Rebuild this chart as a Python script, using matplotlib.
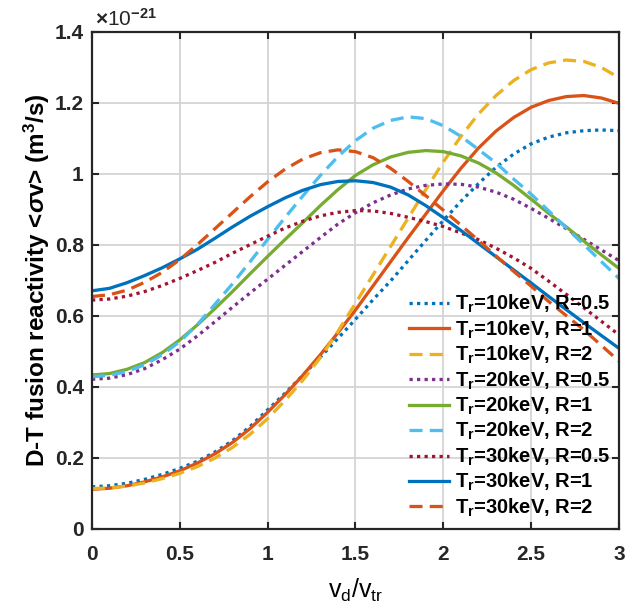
import matplotlib
matplotlib.use("Agg")
import matplotlib.pyplot as plt
from matplotlib import font_manager
from matplotlib.ticker import FormatStrFormatter

# x grid (v_d / v_tr) and reactivities, in units of 1e-21 m^3/s
vd = [round(0.1 * i, 1) for i in range(31)]

t10_r05 = [0.118, 0.121, 0.128, 0.139, 0.153, 0.170, 0.190, 0.216, 0.248, 0.288,
           0.335, 0.382, 0.432, 0.483, 0.536, 0.590, 0.645, 0.698, 0.755, 0.812,
           0.868, 0.922, 0.972, 1.018, 1.055, 1.084, 1.103, 1.115, 1.121, 1.123, 1.121]
t10_r1 = [0.111, 0.114, 0.121, 0.132, 0.146, 0.163, 0.185, 0.211, 0.243, 0.282,
          0.328, 0.378, 0.432, 0.490, 0.552, 0.616, 0.684, 0.752, 0.820, 0.886,
          0.952, 1.015, 1.072, 1.120, 1.158, 1.187, 1.206, 1.217, 1.220, 1.213, 1.198]
t10_r2 = [0.113, 0.115, 0.120, 0.129, 0.141, 0.156, 0.175, 0.199, 0.229, 0.266,
          0.310, 0.362, 0.418, 0.482, 0.556, 0.635, 0.715, 0.795, 0.875, 0.955,
          1.033, 1.105, 1.168, 1.220, 1.262, 1.293, 1.312, 1.320, 1.316, 1.299, 1.270]
t20_r05 = [0.421, 0.424, 0.434, 0.451, 0.476, 0.506, 0.543, 0.583, 0.624, 0.664,
           0.703, 0.742, 0.781, 0.820, 0.858, 0.890, 0.918, 0.940, 0.957, 0.967,
           0.971, 0.970, 0.962, 0.948, 0.928, 0.902, 0.874, 0.845, 0.815, 0.785, 0.755]
t20_r1 = [0.433, 0.437, 0.449, 0.468, 0.496, 0.532, 0.574, 0.620, 0.668, 0.718,
          0.767, 0.815, 0.862, 0.910, 0.955, 0.995, 1.025, 1.047, 1.060, 1.065,
          1.062, 1.050, 1.030, 1.002, 0.967, 0.928, 0.888, 0.850, 0.810, 0.771, 0.733]
t20_r2 = [0.428, 0.432, 0.443, 0.462, 0.490, 0.527, 0.575, 0.632, 0.690, 0.752,
          0.815, 0.877, 0.937, 0.995, 1.048, 1.093, 1.128, 1.150, 1.160, 1.155,
          1.135, 1.105, 1.068, 1.030, 0.985, 0.942, 0.895, 0.847, 0.800, 0.752, 0.705]
t30_r05 = [0.644, 0.647, 0.655, 0.668, 0.685, 0.705, 0.727, 0.750, 0.776, 0.800,
           0.824, 0.847, 0.866, 0.881, 0.891, 0.896, 0.895, 0.888, 0.877, 0.865,
           0.851, 0.833, 0.814, 0.790, 0.763, 0.733, 0.697, 0.660, 0.622, 0.584, 0.546]
t30_r1 = [0.670, 0.677, 0.693, 0.713, 0.735, 0.760, 0.787, 0.818, 0.850, 0.880,
          0.907, 0.932, 0.953, 0.969, 0.978, 0.980, 0.975, 0.962, 0.940, 0.910,
          0.876, 0.840, 0.803, 0.766, 0.729, 0.692, 0.654, 0.617, 0.580, 0.544, 0.508]
t30_r2 = [0.654, 0.659, 0.672, 0.694, 0.722, 0.758, 0.800, 0.845, 0.890, 0.935,
          0.977, 1.013, 1.041, 1.059, 1.067, 1.062, 1.045, 1.015, 0.978, 0.938,
          0.897, 0.855, 0.812, 0.768, 0.725, 0.683, 0.640, 0.600, 0.560, 0.516, 0.472]

labels = [
    r"$\mathregular{T_r}$=10keV, R=0.5", r"$\mathregular{T_r}$=10keV, R=1", r"$\mathregular{T_r}$=10keV, R=2",
    r"$\mathregular{T_r}$=20keV, R=0.5", r"$\mathregular{T_r}$=20keV, R=1", r"$\mathregular{T_r}$=20keV, R=2",
    r"$\mathregular{T_r}$=30keV, R=0.5", r"$\mathregular{T_r}$=30keV, R=1", r"$\mathregular{T_r}$=30keV, R=2",
]
series = [t10_r05, t10_r1, t10_r2, t20_r05, t20_r1, t20_r2, t30_r05, t30_r1, t30_r2]

# MATLAB default colour order, R=0.5 dotted, R=1 solid, R=2 dashed
colors = ["#0072BD", "#D95319", "#EDB120", "#7E2F8E", "#77AC30", "#4DBEEE",
          "#A2142F", "#0072BD", "#D95319"]
DOT = (0, (1.0, 1.3))
DASH = (0, (4.0, 2.2))
styles = [DOT, "-", DASH] * 3


def pick_bold_family(candidates):
    """First family whose bold face really resolves to a bold file."""
    for fam in candidates:
        try:
            path = font_manager.findfont(
                font_manager.FontProperties(family=fam, weight="bold"),
                fallback_to_default=False)
        except Exception:
            continue
        if "bold" in path.lower():
            return fam
    return "DejaVu Sans"


FAMILY = pick_bold_family(["Liberation Sans", "Arimo", "Noto Sans", "Roboto",
                           "Open Sans", "Lato", "Inter", "DejaVu Sans"])

plt.rcParams["font.family"] = FAMILY
plt.rcParams["font.weight"] = "bold"
plt.rcParams["mathtext.fontset"] = "custom"
plt.rcParams["mathtext.rm"] = f"{FAMILY}:bold"
plt.rcParams["mathtext.it"] = f"{FAMILY}:italic:bold"
plt.rcParams["mathtext.bf"] = f"{FAMILY}:bold"

fig = plt.figure(figsize=(6.41, 6.08), dpi=100)
ax = fig.add_axes([0.1435, 0.1304, 0.8222, 0.8176])

for y, c, ls, lab in zip(series, colors, styles, labels):
    ax.plot(vd, y, color=c, linestyle=ls, linewidth=2.35, label=lab,
            dash_capstyle="butt")

ax.set_xlim(0, 3)
ax.set_ylim(0, 1.4)
ax.set_xticks([0, 0.5, 1, 1.5, 2, 2.5, 3])
ax.set_yticks([0, 0.2, 0.4, 0.6, 0.8, 1, 1.2, 1.4])
ax.xaxis.set_major_formatter(FormatStrFormatter("%g"))
ax.yaxis.set_major_formatter(FormatStrFormatter("%g"))
ax.grid(True, color="#d4d4d4", linewidth=1.3)
ax.set_axisbelow(True)
ax.tick_params(direction="in", length=5, width=1.5, labelsize=15,
               top=True, right=True, colors="#262626")
ax.tick_params(axis="x", pad=12)
ax.tick_params(axis="y", pad=6)
for lbl in ax.get_xticklabels() + ax.get_yticklabels():
    lbl.set_fontweight("bold")
for s in ax.spines.values():
    s.set_linewidth(1.6)
    s.set_color("#262626")

ax.set_xlabel(r"$\mathregular{v_d/v_{tr}}$", fontsize=18, labelpad=9)
ax.set_ylabel(r"D-T fusion reactivity <$\sigma$v> (m$^\mathregular{3}$/s)",
              fontsize=17.5, fontweight="bold", labelpad=2)
ax.text(0.006, 1.004, r"$\times$10$^{-21}$", transform=ax.transAxes, fontsize=15,
        fontweight="normal", ha="left", va="bottom", color="#262626")

ax.legend(loc="upper left", bbox_to_anchor=(0.601, 0.474), frameon=False,
          fontsize=14.5, handlelength=2.0, handletextpad=0.3, labelspacing=0.155,
          borderaxespad=0, borderpad=0)

fig.savefig("out.png", dpi=100)
